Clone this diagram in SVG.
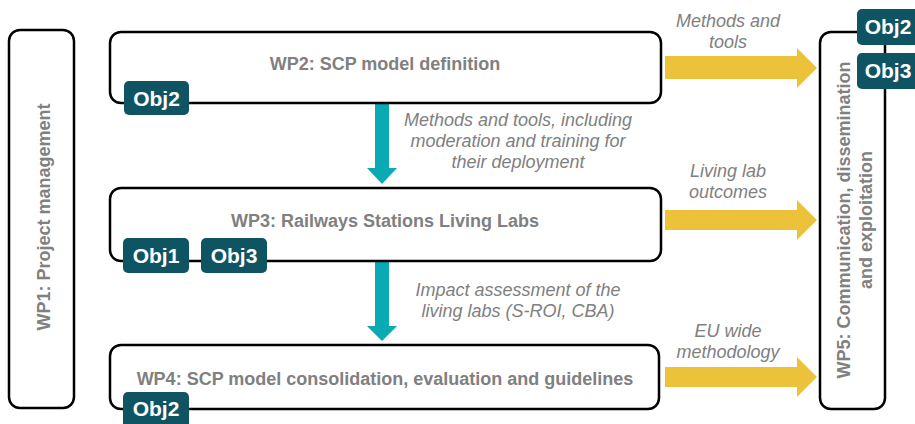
<svg xmlns="http://www.w3.org/2000/svg" width="915" height="424" viewBox="0 0 915 424">
<style>
.box{fill:#fff;stroke:#000;stroke-width:2.5}
.title{font-family:"Liberation Sans",Arial,sans-serif;font-weight:bold;font-size:18px;fill:#808080;text-anchor:middle}
.lbl{font-family:"Liberation Sans",Arial,sans-serif;font-style:italic;font-size:18px;fill:#808080;text-anchor:middle}
.badge{fill:#0f5463}
.btxt{font-family:"Liberation Sans",Arial,sans-serif;font-weight:bold;font-size:21px;fill:#fff;text-anchor:middle}
.teal{fill:#0aaab5}
.yel{fill:#ebc23a}
</style>
<rect width="915" height="424" fill="#fff"/>
<g id="connectors">
<polygon class="teal" points="375,100 389,100 389,168 397,168 382,184 367,168 375,168"/>
<polygon class="teal" points="375,257 389,257 389,326 397,326 382,341 367,326 375,326"/>
<polygon class="yel" points="665,56 797,56 797,48 817,68 797,88 797,79 665,79"/>
<polygon class="yel" points="665,210 797,210 797,200 817,220 797,240 797,230 665,230"/>
<polygon class="yel" points="665,367 797,367 797,357 817,377 797,397 797,387 665,387"/>
<text class="lbl" x="518" y="126">Methods and tools, including</text>
<text class="lbl" x="518" y="147">moderation and training for</text>
<text class="lbl" x="518" y="168">their deployment</text>
<text class="lbl" x="518" y="296">Impact assessment of the</text>
<text class="lbl" x="518" y="317">living labs (S-ROI, CBA)</text>
<text class="lbl" x="728" y="27">Methods and</text>
<text class="lbl" x="728" y="48">tools</text>
<text class="lbl" x="728" y="177">Living lab</text>
<text class="lbl" x="728" y="198">outcomes</text>
<text class="lbl" x="728" y="337">EU wide</text>
<text class="lbl" x="728" y="358">methodology</text>
</g>
<g id="wp1">
<rect class="box" x="9" y="30" width="65" height="378" rx="11"/>
<text class="title" transform="translate(50,217) rotate(-90)">WP1: Project management</text>
</g>
<g id="wp2">
<rect class="box" x="110" y="32" width="551" height="71" rx="11"/>
<text class="title" x="385" y="70">WP2: SCP model definition</text>
<rect class="badge" x="124" y="81" width="65" height="34" rx="5"/>
<text class="btxt" x="156.5" y="106">Obj2</text>
</g>
<g id="wp3">
<rect class="box" x="110" y="188" width="551" height="73" rx="11"/>
<text class="title" x="385" y="227">WP3: Railways Stations Living Labs</text>
<rect class="badge" x="123" y="238" width="66" height="35" rx="5"/>
<text class="btxt" x="156" y="263">Obj1</text>
<rect class="badge" x="201" y="238" width="66" height="35" rx="5"/>
<text class="btxt" x="234" y="263">Obj3</text>
</g>
<g id="wp4">
<rect class="box" x="110" y="345" width="549" height="64" rx="11"/>
<text class="title" x="385" y="385">WP4: SCP model consolidation, evaluation and guidelines</text>
<rect class="badge" x="123" y="392" width="66" height="36" rx="5"/>
<text class="btxt" x="156" y="416">Obj2</text>
</g>
<g id="wp5">
<rect class="box" x="820" y="32" width="65" height="377" rx="11"/>
<text class="title" transform="translate(850,220) rotate(-90)">WP5: Communication, dissemination</text>
<text class="title" transform="translate(872,220) rotate(-90)">and exploitation</text>
<rect class="badge" x="857" y="9" width="66" height="36" rx="5"/>
<text class="btxt" x="888" y="34">Obj2</text>
<rect class="badge" x="857" y="53" width="66" height="36" rx="5"/>
<text class="btxt" x="888" y="78">Obj3</text>
</g>
</svg>
